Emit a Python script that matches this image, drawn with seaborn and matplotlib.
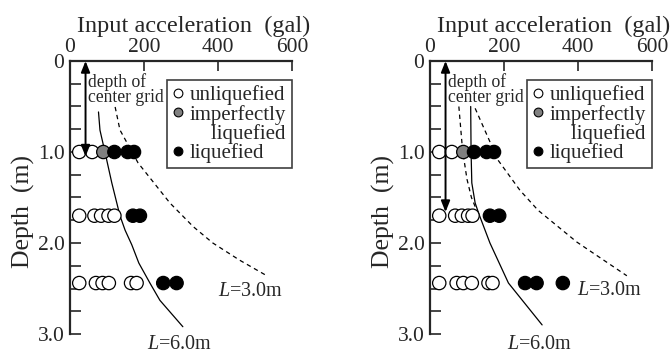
import matplotlib
matplotlib.use("Agg")
import matplotlib.pyplot as plt
from matplotlib.lines import Line2D
from matplotlib.ticker import FixedLocator, FixedFormatter
import pandas as pd
import seaborn as sns

sns.set_style("ticks")
plt.rcParams["font.family"] = ["Liberation Serif", "DejaVu Serif"]
plt.rcParams["mathtext.fontset"] = "custom"
plt.rcParams["mathtext.rm"] = "Liberation Serif"
plt.rcParams["mathtext.it"] = "Liberation Serif:italic"

# ---- axes ticks ----
acc_ticks = [0, 200, 400, 600]
depth_ticks = [0, 1.0, 2.0, 3.0]
depth_tick_labels = ["0", "1.0", "2.0", "3.0"]
depth_minor = [0.25, 0.5, 0.75, 1.25, 1.5, 1.75, 2.25, 2.5, 2.75]

state_order = ["unliquefied", "imperfectly liquefied", "liquefied"]
state_colors = {"unliquefied": "white", "imperfectly liquefied": "#808080", "liquefied": "black"}

# ---- case A: test results ----
a_depth = [1.0] * 6 + [1.70] * 7 + [2.44] * 8
a_acc = [25, 60, 90, 120, 156, 173,
         25, 66, 84, 104, 120, 170, 189,
         25, 70, 88, 105, 165, 180, 252, 288]
a_state = (["unliquefied"] * 2 + ["imperfectly liquefied"] + ["liquefied"] * 3
           + ["unliquefied"] * 5 + ["liquefied"] * 2
           + ["unliquefied"] * 6 + ["liquefied"] * 2)
a_grid_depth = 1.05

# case A: boundary curves
a_l6_acc = [77, 81, 95, 113, 135, 149, 167, 186, 216, 243, 305]
a_l6_depth = [0.56, 0.76, 1.01, 1.34, 1.70, 1.86, 2.02, 2.22, 2.44, 2.63, 2.92]
a_l3_acc = [122, 135, 184, 270, 333, 386, 459, 532]
a_l3_depth = [0.505, 0.758, 1.12, 1.56, 1.82, 2.0, 2.19, 2.36]

# ---- case B: test results ----
b_depth = [1.0] * 6 + [1.70] * 7 + [2.44] * 9
b_acc = [25, 59, 90, 119, 153, 173,
         25, 68, 86, 103, 115, 162, 187,
         25, 72, 90, 113, 158, 169, 257, 288, 359]
b_state = (["unliquefied"] * 2 + ["imperfectly liquefied"] + ["liquefied"] * 3
           + ["unliquefied"] * 5 + ["liquefied"] * 2
           + ["unliquefied"] * 6 + ["liquefied"] * 3)
b_grid_depth = 1.66

# case B: boundary curves
b_l6_acc = [110, 111, 113, 122, 133, 162, 212, 303]
b_l6_depth = [0.50, 1.00, 1.34, 1.56, 1.69, 2.0, 2.44, 2.90]
b_l6s_acc = [78, 88, 100, 112, 124]
b_l6s_depth = [0.50, 0.98, 1.30, 1.50, 1.62]
b_l3_acc = [122, 184, 243, 292, 397, 532]
b_l3_depth = [0.52, 1.09, 1.42, 1.64, 1.99, 2.36]

ARROW_ACC = 42
DASH = (0, (3.5, 3))


def setup_axes(ax):
    ax.set_xlim(0, 600)
    ax.set_ylim(3.0, 0)
    for s in ("right", "bottom"):
        ax.spines[s].set_visible(False)
    for s in ("left", "top"):
        ax.spines[s].set_linewidth(1.6)
    ax.xaxis.tick_top()
    ax.xaxis.set_major_locator(FixedLocator(acc_ticks))
    ax.yaxis.set_major_locator(FixedLocator(depth_ticks))
    ax.yaxis.set_major_formatter(FixedFormatter(depth_tick_labels))
    ax.yaxis.set_minor_locator(FixedLocator(depth_minor))
    ax.tick_params(axis="x", which="major", direction="in", length=7, width=1.2,
                   labelsize=15.5, pad=3.0, top=True, bottom=False)
    ax.tick_params(axis="y", which="both", direction="in", length=8, width=1.2,
                   labelsize=15.5, pad=4.0, left=True, right=False)
    ax.set_xlabel("Input acceleration  (gal)", fontsize=17.5)
    ax.xaxis.set_label_position("top")
    ax.xaxis.set_label_coords(0.031, 1.106)
    ax.xaxis.label.set_ha("left")
    ax.xaxis.label.set_va("baseline")
    ax.set_ylabel("Depth  (m)", fontsize=18.5)
    ax.yaxis.set_label_coords(-0.21, 0.448)
    ax.yaxis.label.set_va("center")


def draw_panel(ax, acc, depth, state, grid_depth, curves, l3_pos, l6_pos, note_x):
    for cx, cy, ls in curves:
        sns.lineplot(x=cx, y=cy, sort=False, estimator=None, color="black",
                     linewidth=0.9, linestyle=ls, ax=ax, zorder=2)
    df = pd.DataFrame({"acc": acc, "depth": depth, "state": state})
    sns.scatterplot(data=df, x="acc", y="depth", hue="state", hue_order=state_order,
                    palette=state_colors, s=92, edgecolor="black", linewidth=0.9,
                    legend=False, ax=ax, zorder=3)
    ax.annotate("", xy=(ARROW_ACC, grid_depth), xytext=(ARROW_ACC, 0.0),
                arrowprops=dict(arrowstyle="<|-|>,head_length=0.55,head_width=0.22",
                                color="black", lw=1.4, shrinkA=0, shrinkB=0,
                                mutation_scale=12), zorder=4)
    ax.text(note_x, 0.13, "depth of\ncenter grid", fontsize=12.7, ha="left", va="top",
            linespacing=0.9, zorder=4)
    ax.text(l3_pos[0], l3_pos[1], r"$\mathit{L}$=3.0m", fontsize=14.5, ha="left",
            va="baseline")
    ax.text(l6_pos[0], l6_pos[1], r"$\mathit{L}$=6.0m", fontsize=14.5, ha="left",
            va="baseline", clip_on=False)

    handles = [
        Line2D([], [], ls="none", marker="o", ms=6.3, mfc="white", mec="black", mew=0.8),
        Line2D([], [], ls="none", marker="o", ms=6.3, mfc="#808080", mec="black", mew=0.8),
        Line2D([], [], ls="none", marker="none"),
        Line2D([], [], ls="none", marker="o", ms=6.3, mfc="black", mec="black", mew=0.8),
    ]
    labels = ["unliquefied", "imperfectly", "    liquefied", "liquefied"]
    leg = ax.legend(handles, labels, loc="upper left", bbox_to_anchor=(0.437, 0.93),
                    borderaxespad=0, fontsize=15, frameon=True, fancybox=False,
                    framealpha=1, edgecolor="#404040", handlelength=0.6,
                    handletextpad=0.25, borderpad=0.25, labelspacing=-0.03)
    leg.get_frame().set_linewidth(1.2)
    setup_axes(ax)


fig = plt.figure(figsize=(6.71, 3.54), dpi=100)
ax_a = fig.add_axes([70 / 671, 20 / 354, 222 / 671, 273 / 354])
ax_b = fig.add_axes([430 / 671, 20 / 354, 222 / 671, 273 / 354])

draw_panel(ax_a, a_acc, a_depth, a_state, a_grid_depth,
           [(a_l6_acc, a_l6_depth, "-"), (a_l3_acc, a_l3_depth, DASH)],
           (400, 2.58), (208, 3.17), 49)
draw_panel(ax_b, b_acc, b_depth, b_state, b_grid_depth,
           [(b_l6_acc, b_l6_depth, "-"), (b_l6s_acc, b_l6s_depth, DASH),
            (b_l3_acc, b_l3_depth, DASH)],
           (398, 2.57), (208, 3.17), 48)

fig.savefig("out.png", dpi=100)
